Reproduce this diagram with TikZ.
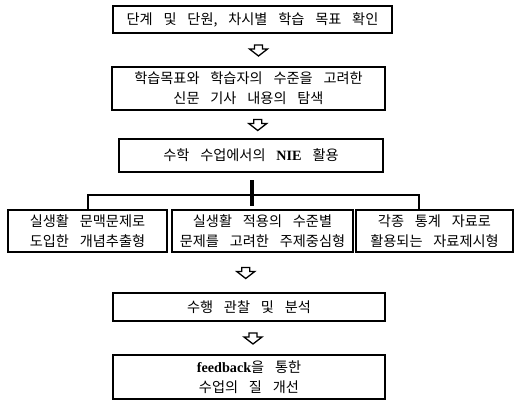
\documentclass[tikz,border=0pt]{standalone}
\usepackage{fontspec}
\setmainfont{Liberation Serif}
\newfontfamily\kr[WordSpace=3.4]{Noto Sans CJK KR}
\usetikzlibrary{calc}
\begin{document}
\begin{tikzpicture}[x=1pt,y=-1pt,
  box/.style={draw, line width=1.5pt, inner sep=0pt, align=center,
    font=\kr\fontsize{14.2}{20}\selectfont},
  busline/.style={line width=1.8pt},
  trunk/.style={line width=3.2pt},
  hollowdown/.pic={\draw[line width=1.3pt, line join=miter]
    (-4,-5) -- (4,-5) -- (4,-1) -- (9,-1) -- (0,6) -- (-9,-1) -- (-4,-1) -- cycle;}]
\useasboundingbox[fill=white] (0,0) rectangle (516,401);

\node[box, minimum width=279pt, minimum height=27pt] (b1) at (252.5,19.5)
  {단계 및 단원, 차시별 학습 목표 확인};
\node[box, minimum width=273pt, minimum height=43pt] (b2) at (248.5,88.5)
  {학습목표와 학습자의 수준을 고려한\\신문 기사 내용의 탐색};
\node[box, minimum width=264pt, minimum height=33pt] (b3) at (251,155.5)
  {수학 수업에서의 {\rmfamily\bfseries NIE} 활용};

\node[box, minimum width=159pt, minimum height=42pt] (L) at (87.5,231)
  {실생활 문맥문제로\\도입한 개념추출형};
\node[box, minimum width=181pt, minimum height=42pt] (M) at (262.5,231)
  {실생활 적용의 수준별\\문제를 고려한 주제중심형};
\node[box, minimum width=157pt, minimum height=42pt] (R) at (434.5,231)
  {각종 통계 자료로\\활용되는 자료제시형};

\node[box, minimum width=272pt, minimum height=28pt] (b4) at (249,307)
  {수행 관찰 및 분석};
\node[box, minimum width=272pt, minimum height=44pt] (b5) at (249,377)
  {{\rmfamily\bfseries feedback}을 통한\\수업의 질 개선};

% hollow arrows
\pic at ($(b1.south)!0.5!(b2.north)+(8,0)$) {hollowdown};
\pic at ($(b2.south)!0.5!(b3.north)+(8,0)$) {hollowdown};
\pic at ($(M.south)!0.5!(b4.north)+(-10,0)$) {hollowdown};
\pic at ($(b4.south)!0.5!(b5.north)+(4,0)$) {hollowdown};

% branching
\coordinate (busL) at (88,195);
\coordinate (busR) at (419,195);
\coordinate (rtop) at (419,210);
\coordinate (t1) at (252,180);
\coordinate (t2) at (252,206);
\draw[busline] (L.north -| busL) -- (busL) -- (busR) -- (rtop);
\draw[trunk] (t1) -- (t2);
\end{tikzpicture}
\end{document}
